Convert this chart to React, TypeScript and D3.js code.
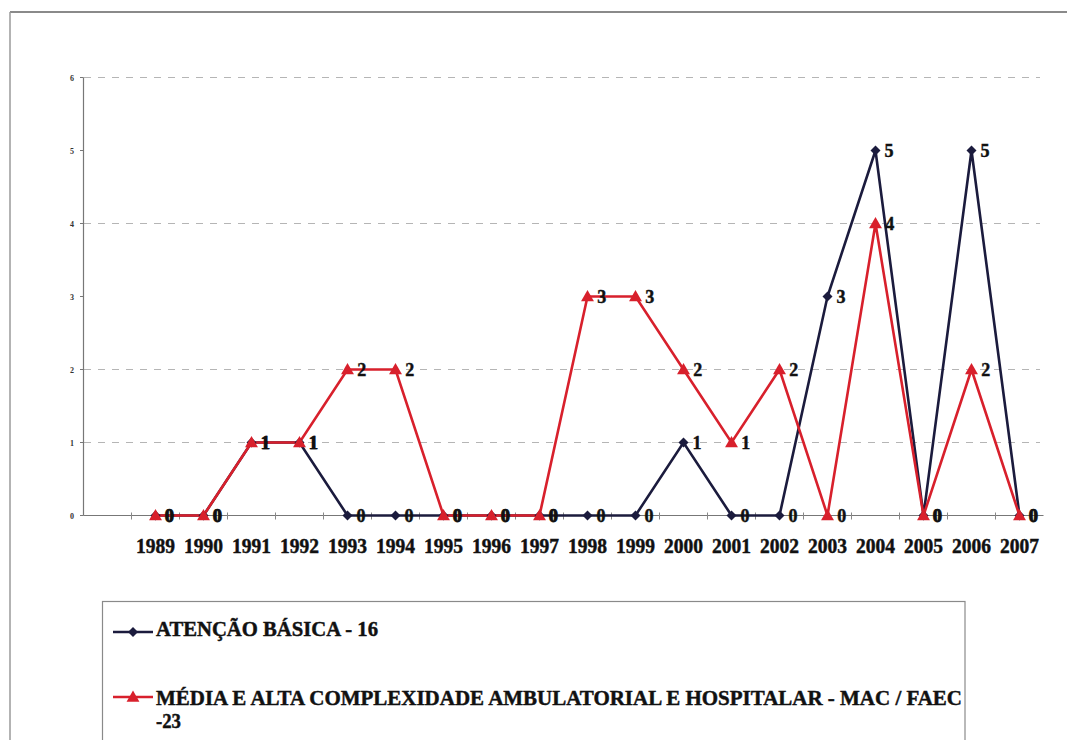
import React from "react";
import * as d3 from "d3";

const categories = ["", "1989", "1990", "1991", "1992", "1993", "1994", "1995", "1996", "1997", "1998", "1999", "2000", "2001", "2002", "2003", "2004", "2005", "2006", "2007"];
const years = categories.slice(1);
const atencaoBasica = [0, 0, 1, 1, 0, 0, 0, 0, 0, 0, 0, 1, 0, 0, 3, 5, 0, 5, 0];
const mediaAlta = [0, 0, 1, 1, 2, 2, 0, 0, 0, 3, 3, 2, 1, 2, 0, 4, 0, 2, 0];
const yTicks = [0, 1, 2, 3, 4, 5, 6];
const gridValues = [1, 2, 4, 6];
const legendLabels = ["ATENÇÃO BÁSICA - 16", "MÉDIA E ALTA COMPLEXIDADE AMBULATORIAL E HOSPITALAR - MAC / FAEC", "-23"];

const BLUE = "#1b1b3d";
const RED = "#d8202c";
const FONT = "Liberation Serif, Times New Roman, DejaVu Serif, serif";

export default function App() {
  const x = d3.scaleBand<string>().domain(categories).range([83.5, 1043.5]).padding(0);
  const y = d3.scaleLinear().domain([0, 6]).range([515.5, 77.5]);
  const cx = (c: string) => (x(c) as number) + x.bandwidth() / 2;

  const line = d3
    .line<number>()
    .x((_, i) => cx(years[i]))
    .y((d) => y(d));

  const diamond = d3.symbol().type(d3.symbolSquare).size(50)() as string;
  const triangle = d3.symbol().type(d3.symbolTriangle).size(72)() as string;

  const series = [
    { name: "blue", values: atencaoBasica, color: BLUE, marker: diamond, rot: 45, dy: 0 },
    { name: "red", values: mediaAlta, color: RED, marker: triangle, rot: 0, dy: 1 },
  ];

  const boundaries = categories.map((c) => x(c) as number).slice(1);

  const txt = { fontFamily: FONT, fontWeight: 700 as const };
  const heavy = { stroke: "#111", strokeWidth: 0.45 };

  return (
    <svg width={1067} height={740} style={{ position: "absolute", left: 0, top: 0, background: "#fff" }}>
      <rect x={0} y={0} width={1067} height={740} fill="#fff" />
      {/* outer frame */}
      <line x1={10} y1={12} x2={1067} y2={12} stroke="#8a8a8a" strokeWidth={2} />
      <line x1={10} y1={12} x2={10} y2={740} stroke="#9a9a9a" strokeWidth={1.5} />

      {/* gridlines */}
      {gridValues.map((v) => (
        <line key={v} x1={84} x2={1040} y1={y(v)} y2={y(v)} stroke="#b5b5b5" strokeWidth={1} strokeDasharray="7,7" />
      ))}

      {/* y axis */}
      <line x1={83.5} x2={83.5} y1={y(6)} y2={y(0)} stroke="#777" strokeWidth={1.2} />
      {yTicks.map((v) => (
        <g key={v}>
          <line x1={80} x2={83.5} y1={y(v)} y2={y(v)} stroke="#777" strokeWidth={1} />
          <text x={72} y={y(v) + 3} fontSize={8} textAnchor="middle" fill="#333" style={txt}>
            {v}
          </text>
        </g>
      ))}

      {/* x axis */}
      <line x1={83.5} x2={1043.5} y1={y(0)} y2={y(0)} stroke="#777" strokeWidth={1.2} />
      {boundaries.map((b, i) => (
        <line key={i} x1={b} x2={b} y1={y(0) - 3} y2={y(0) + 4} stroke="#888" strokeWidth={1} />
      ))}
      {years.map((yr) => (
        <text
          key={yr}
          x={cx(yr)}
          y={553}
          fontSize={20}
          textAnchor="middle"
          textLength={39}
          lengthAdjust="spacingAndGlyphs"
          fill="#111"
          style={txt}
          {...heavy}
        >
          {yr}
        </text>
      ))}

      {/* series lines */}
      {series.map((s) => (
        <path key={s.name} d={line(s.values) as string} fill="none" stroke={s.color} strokeWidth={2.6} strokeLinejoin="miter" />
      ))}
      {/* markers */}
      {series.map((s) => (
        <g key={s.name + "m"}>
          {s.values.map((v, i) => (
            <path
              key={i}
              d={s.marker}
              transform={`translate(${cx(years[i])},${y(v) + s.dy}) rotate(${s.rot})`}
              fill={s.color}
            />
          ))}
        </g>
      ))}
      {/* data labels */}
      {series.map((s) => (
        <g key={s.name + "l"}>
          {s.values.map((v, i) => (
            <text
              key={i}
              x={cx(years[i]) + 9 + (s.name === "red" ? 0.8 : 0)}
              y={y(v) + 6.5}
              fontSize={18}
              fill="#111"
              style={txt}
              {...heavy}
            >
              {v}
            </text>
          ))}
        </g>
      ))}

      {/* legend */}
      <rect x={102.5} y={601.5} width={862.5} height={160} fill="none" stroke="#8a8a8a" strokeWidth={1.2} />
      <line x1={113} x2={153} y1={632} y2={632} stroke={BLUE} strokeWidth={2.6} />
      <path d={diamond} transform="translate(133,632) rotate(45)" fill={BLUE} />
      <text x={156} y={636} fontSize={21} fill="#111" textLength={222} lengthAdjust="spacingAndGlyphs" style={txt} {...heavy}>
        {legendLabels[0]}
      </text>
      <line x1={113} x2={153} y1={697} y2={697} stroke={RED} strokeWidth={2.6} />
      <path d={triangle} transform="translate(133,698)" fill={RED} />
      <text x={156} y={705} fontSize={21} fill="#111" textLength={806} lengthAdjust="spacingAndGlyphs" style={txt} {...heavy}>
        {legendLabels[1]}
      </text>
      <text x={156} y={728} fontSize={21} fill="#111" textLength={25} lengthAdjust="spacingAndGlyphs" style={txt} {...heavy}>
        {legendLabels[2]}
      </text>
    </svg>
  );
}
